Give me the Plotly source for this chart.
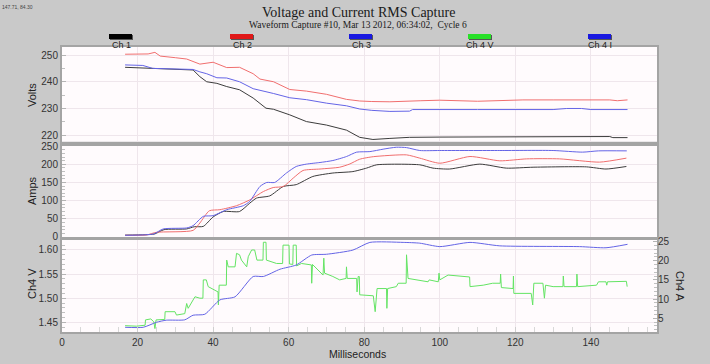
import plotly.graph_objects as go

# ---------------- data ----------------
# Panel 1: Volts
ch1_v_x = [16.7, 26, 34.7, 36.5, 38.3, 41, 43.6, 47, 50.6, 54, 56, 60.3, 64.7, 70, 75.3, 78.8, 82.3, 86.8, 92, 100, 120, 140, 145, 145.8, 149.7]
ch1_v_y = [245.4, 245.0, 244.4, 241.9, 240.0, 239.4, 238.2, 237.0, 233.9, 230.1, 229.7, 227.6, 225.1, 223.8, 221.9, 219.2, 218.4, 218.8, 219.2, 219.3, 219.4, 219.5, 219.5, 219.1, 219.1]

ch2_v_x = [16.7, 22.8, 24.6, 26, 30, 33, 36.5, 40, 43.6, 47, 50.6, 52.4, 56, 60.3, 64.7, 70, 75.3, 78.8, 82, 86.8, 95, 100, 110, 118, 122, 130, 140, 145, 147, 149.7]
ch2_v_y = [250.3, 250.4, 251.0, 249.6, 249.0, 248.5, 246.6, 247.3, 245.3, 245.4, 243.0, 241.0, 240.0, 237.1, 236.5, 235.3, 233.4, 232.8, 232.6, 232.5, 232.9, 233.1, 232.7, 233.1, 233.2, 233.2, 233.3, 233.2, 232.9, 233.2]

ch3_v_x = [16.7, 21.4, 24, 30, 34.7, 36.5, 38.3, 41, 43.6, 47, 50.6, 56, 60.3, 64.7, 70, 75.3, 78.8, 82, 86.8, 92, 92.8, 110, 130, 133.6, 137.5, 140, 149.7]
ch3_v_y = [246.3, 246.1, 245.0, 244.7, 244.6, 243.7, 243.0, 241.5, 241.4, 240.0, 237.4, 235.6, 234.0, 233.3, 232.0, 231.0, 229.8, 229.3, 228.9, 229.0, 229.6, 229.6, 229.6, 230.0, 230.0, 229.6, 229.6]

# Panel 2: Amps
ch1_a_x = [16.7, 22, 24.5, 27, 33, 35, 37.4, 40, 42.7, 47, 49.7, 51.5, 55, 58.6, 62, 66.4, 71.7, 77, 80.6, 83.3, 94.7, 98.2, 102.6, 110.6, 117.6, 124.7, 138.8, 144, 149.4]
ch1_a_y = [5, 6, 8, 20, 22, 28, 29, 55, 70, 70, 93, 107, 113, 139, 144, 166.5, 176, 180, 189.5, 198.6, 198.6, 189.5, 187, 200.5, 189.5, 192, 193, 187, 194]

ch2_a_x = [16.7, 22.4, 25, 34.7, 36.5, 39, 41.8, 46.2, 49.7, 53.3, 55.9, 58.6, 61.2, 63.8, 68.3, 73.5, 76.2, 78.8, 82.4, 91.2, 94.7, 100, 108, 115.9, 123, 131.7, 142.3, 149.4]
ch2_a_y = [4.4, 5.5, 12.7, 18, 38.4, 72, 75, 86, 102, 125, 136, 139, 162, 183, 187, 192, 201, 214, 221, 226, 217, 203, 221.5, 209.6, 215, 215, 206, 217]

ch3_a_x = [16.7, 24.2, 26.8, 33, 34.7, 37.4, 40, 43.6, 48, 49.7, 52.4, 54.2, 56.3, 59.4, 62, 64.7, 68.3, 71.7, 75.3, 78, 81.5, 85, 88.5, 91.2, 94.7, 100, 115.9, 130, 137.8, 142, 149.5]
ch3_a_y = [4.4, 8, 22, 24.7, 31, 56.6, 58.5, 75, 86, 98, 139, 150, 150, 176, 194, 200.5, 205, 210.4, 221.4, 233.5, 235, 241.7, 247, 246, 238, 238, 238, 238, 233.5, 237, 237]

# Panel 3: Ch4 V (left axis) and Ch4 A (right axis)
ch4_v_x = [16.7, 19.7, 22.0, 22.1, 23.5, 24.3, 24.6, 24.9, 27.2, 27.3, 29.9, 30.3, 32.5, 33.0, 33.4, 35.2, 36.5, 37.3, 37.4, 38.2, 38.7, 40.5, 41.3, 41.4, 41.6, 43.5, 43.6, 44.0, 45.8, 46.2, 47.0, 47.5, 48.9, 49.3, 50.2, 51.0, 51.6, 53.2, 53.3, 54.0, 54.1, 56.8, 58.4, 58.5, 60.1, 60.2, 61.1, 61.2, 62.0, 62.1, 63.4, 66.0, 66.1, 66.3, 68.3, 69.1, 69.3, 69.5, 71.7, 73.5, 75.2, 75.3, 75.5, 78.0, 78.1, 78.4, 78.7, 78.8, 82.4, 82.9, 83.4, 85.9, 86.0, 86.2, 88.5, 89.0, 91.1, 91.2, 91.6, 94.3, 96.9, 97.2, 99.6, 99.8, 100.0, 102.2, 105.3, 107.9, 108.0, 111.5, 114.0, 116.0, 116.1, 116.3, 119.4, 119.5, 119.6, 124.2, 124.6, 124.9, 127.3, 127.7, 128.0, 130.0, 132.6, 132.7, 132.9, 136.2, 136.3, 136.5, 141.5, 142.0, 144.0, 144.2, 144.4, 149.4, 149.6]
ch4_v_y = [1.443, 1.442, 1.444, 1.455, 1.457, 1.451, 1.437, 1.455, 1.456, 1.472, 1.472, 1.465, 1.468, 1.489, 1.479, 1.503, 1.500, 1.500, 1.538, 1.538, 1.524, 1.517, 1.513, 1.486, 1.527, 1.527, 1.579, 1.565, 1.565, 1.593, 1.590, 1.579, 1.565, 1.586, 1.600, 1.600, 1.579, 1.579, 1.616, 1.616, 1.579, 1.572, 1.572, 1.610, 1.610, 1.571, 1.570, 1.610, 1.610, 1.567, 1.572, 1.569, 1.531, 1.570, 1.555, 1.548, 1.583, 1.552, 1.545, 1.538, 1.541, 1.565, 1.541, 1.541, 1.513, 1.545, 1.545, 1.507, 1.505, 1.472, 1.520, 1.520, 1.479, 1.520, 1.524, 1.531, 1.531, 1.590, 1.541, 1.538, 1.534, 1.538, 1.534, 1.552, 1.538, 1.548, 1.545, 1.544, 1.524, 1.527, 1.531, 1.531, 1.550, 1.522, 1.520, 1.546, 1.510, 1.510, 1.486, 1.531, 1.531, 1.500, 1.527, 1.524, 1.524, 1.546, 1.524, 1.524, 1.550, 1.524, 1.527, 1.534, 1.534, 1.527, 1.534, 1.535, 1.524]

ch4_i_x = [16.7, 21.5, 25, 27.6, 32.5, 34.7, 37.8, 41.8, 45.8, 50.6, 53.3, 57.7, 62, 66.1, 70, 77, 81.5, 90.3, 94.7, 100, 108, 115.9, 137, 144, 149.7]
ch4_i_y = [2.65, 2.65, 3.95, 4.5, 4.6, 5.8, 6.05, 9.8, 10.6, 15.9, 15.9, 17.8, 18.9, 21.5, 21.7, 22.8, 24.8, 24.8, 24.6, 23.7, 24.8, 23.9, 23.7, 23.4, 24.3]

x_ticks = [0, 20, 40, 60, 80, 100, 120, 140]
volt_ticks = [220, 230, 240, 250]
amp_ticks = [0, 50, 100, 150, 200, 250]
ch4v_ticks = [1.45, 1.50, 1.55, 1.60]
ch4v_labels = ["1.45", "1.50", "1.55", "1.60"]
ch4a_ticks = [5, 10, 15, 20, 25]

legend_names = ["Ch 1", "Ch 2", "Ch 3", "Ch 4 V", "Ch 4 I"]
legend_colors = ["#000000", "#e01818", "#1818e0", "#28e028", "#1818e0"]

# ---------------- styling ----------------
BLACK = "rgb(60,60,60)"
RED = "rgb(240,110,110)"
BLUE = "rgb(100,100,230)"
GREEN = "rgb(100,228,100)"
LW = 1

fig = go.Figure()
fig.add_trace(go.Scatter(x=ch1_v_x, y=ch1_v_y, mode="lines", line=dict(color=BLACK, width=LW), xaxis="x", yaxis="y"))
fig.add_trace(go.Scatter(x=ch2_v_x, y=ch2_v_y, mode="lines", line=dict(color=RED, width=LW), xaxis="x", yaxis="y"))
fig.add_trace(go.Scatter(x=ch3_v_x, y=ch3_v_y, mode="lines", line=dict(color=BLUE, width=LW), xaxis="x", yaxis="y"))

fig.add_trace(go.Scatter(x=ch1_a_x, y=ch1_a_y, mode="lines", line=dict(color=BLACK, width=LW, shape="spline", smoothing=0.6), xaxis="x2", yaxis="y2"))
fig.add_trace(go.Scatter(x=ch2_a_x, y=ch2_a_y, mode="lines", line=dict(color=RED, width=LW, shape="spline", smoothing=0.6), xaxis="x2", yaxis="y2"))
fig.add_trace(go.Scatter(x=ch3_a_x, y=ch3_a_y, mode="lines", line=dict(color=BLUE, width=LW, shape="spline", smoothing=0.6), xaxis="x2", yaxis="y2"))

fig.add_trace(go.Scatter(x=ch4_v_x, y=ch4_v_y, mode="lines", line=dict(color=GREEN, width=LW), xaxis="x3", yaxis="y3"))
fig.add_trace(go.Scatter(x=ch4_i_x, y=ch4_i_y, mode="lines", line=dict(color=BLUE, width=LW, shape="spline", smoothing=0.6), xaxis="x3", yaxis="y4"))

FONT = "Liberation Sans, Arial, sans-serif"
TICKFONT = dict(family=FONT, size=10, color="#333333")
GRID = "#efe6ec"
LINE = "#a4a4a4"

common_x = dict(range=[0, 157.5], showgrid=True, gridcolor=GRID, gridwidth=1,
                tickvals=x_ticks, showline=True, linecolor=LINE, linewidth=2, mirror=True,
                zeroline=False, tickfont=TICKFONT)
common_y = dict(showgrid=True, gridcolor=GRID, gridwidth=1, showline=True, linecolor=LINE,
                linewidth=2, mirror=True, zeroline=False, tickfont=TICKFONT,
                ticks="inside", ticklen=4, tickcolor="#b4b4b4")

D1 = [0.668, 1.0]
D2 = [0.333, 0.654]
D3 = [0.0, 0.323]

fig.update_layout(
    width=710, height=364,
    margin=dict(l=62, r=53, t=47, b=32),
    paper_bgcolor="#c9c9c9",
    plot_bgcolor="#fffbfd",
    showlegend=False,
    xaxis=dict(common_x, anchor="y", matches="x3", showticklabels=False, ticks=""),
    xaxis2=dict(common_x, anchor="y2", matches="x3", showticklabels=False, ticks=""),
    xaxis3=dict(common_x, anchor="y3", ticks="inside", ticklen=5, tickcolor="#cfcfcf",
                minor=dict(dtick=5, ticks="inside", ticklen=5, tickcolor="#d8d8d8", showgrid=False)),
    yaxis=dict(common_y, domain=D1, range=[217.6, 253.0], tickvals=volt_ticks,
               minor=dict(dtick=5, ticks="inside", ticklen=3, tickcolor="#c0c0c0", showgrid=False)),
    yaxis2=dict(common_y, domain=D2, range=[-0.5, 251.5], tickvals=amp_ticks,
                minor=dict(dtick=10, ticks="inside", ticklen=3, tickcolor="#c0c0c0", showgrid=False)),
    yaxis3=dict(common_y, domain=D3, range=[1.4299, 1.6208], tickvals=ch4v_ticks, ticktext=ch4v_labels,
                minor=dict(dtick=0.01, ticks="inside", ticklen=3, tickcolor="#c0c0c0", showgrid=False)),
    yaxis4=dict(overlaying="y3", side="right", anchor="x3", range=[1.42, 25.44], tickvals=ch4a_ticks,
                showgrid=False, zeroline=False, showline=False, tickfont=TICKFONT,
                ticks="inside", ticklen=4, tickcolor="#b4b4b4",
                minor=dict(dtick=1, ticks="inside", ticklen=3, tickcolor="#c0c0c0")),
)

def px_to_paper_y(py):
    return (332 - py) / 285.0

def px_to_paper_x(px):
    return (px - 62) / 595.0

ann = []
ann.append(dict(text="Voltage and Current RMS Capture", x=px_to_paper_x(358), y=px_to_paper_y(12),
                font=dict(family="Liberation Serif, Times New Roman, serif", size=14, color="#1a1a1a")))
ann.append(dict(text="Waveform Capture #10, Mar 13 2012, 06:34:02,  Cycle 6", x=px_to_paper_x(358), y=px_to_paper_y(25),
                font=dict(family="Liberation Serif, Times New Roman, serif", size=9.5, color="#1a1a1a")))
ann.append(dict(text="147.71, 84.30", x=px_to_paper_x(17), y=px_to_paper_y(7),
                font=dict(family=FONT, size=5, color="#444444")))
ann.append(dict(text="Volts", x=px_to_paper_x(32), y=px_to_paper_y(95), textangle=-90,
                font=dict(family=FONT, size=11, color="#222222")))
ann.append(dict(text="Amps", x=px_to_paper_x(32), y=px_to_paper_y(191), textangle=-90,
                font=dict(family=FONT, size=11, color="#222222")))
ann.append(dict(text="Ch4 V", x=px_to_paper_x(32), y=px_to_paper_y(284), textangle=-90,
                font=dict(family=FONT, size=11, color="#222222")))
ann.append(dict(text="Ch4 A", x=px_to_paper_x(680), y=px_to_paper_y(286), textangle=90,
                font=dict(family=FONT, size=11, color="#222222")))
ann.append(dict(text="Milliseconds", x=px_to_paper_x(357), y=px_to_paper_y(354),
                font=dict(family=FONT, size=10.5, color="#222222")))

legend_centers = [121, 242, 361, 480, 600]
shapes = []
for name, col, cx in zip(legend_names, legend_colors, legend_centers):
    shapes.append(dict(type="rect", xref="paper", yref="paper",
                       x0=px_to_paper_x(cx - 11), x1=px_to_paper_x(cx + 12),
                       y0=px_to_paper_y(40), y1=px_to_paper_y(35),
                       fillcolor="#555555", line=dict(width=0)))
    shapes.append(dict(type="rect", xref="paper", yref="paper",
                       x0=px_to_paper_x(cx - 12), x1=px_to_paper_x(cx + 11),
                       y0=px_to_paper_y(39), y1=px_to_paper_y(34),
                       fillcolor=col, line=dict(width=0)))
    ann.append(dict(text=name, x=px_to_paper_x(cx), y=px_to_paper_y(45),
                    font=dict(family=FONT, size=9, color="#222222")))

for a in ann:
    a.update(xref="paper", yref="paper", showarrow=False, xanchor="center", yanchor="middle")

fig.update_layout(annotations=ann, shapes=shapes)
fig.write_html("out.html", config={"displayModeBar": False},
               post_script="document.body.style.margin='0';document.body.style.padding='0';"
                           "document.body.style.overflow='hidden';document.body.style.background='#c9c9c9';")
